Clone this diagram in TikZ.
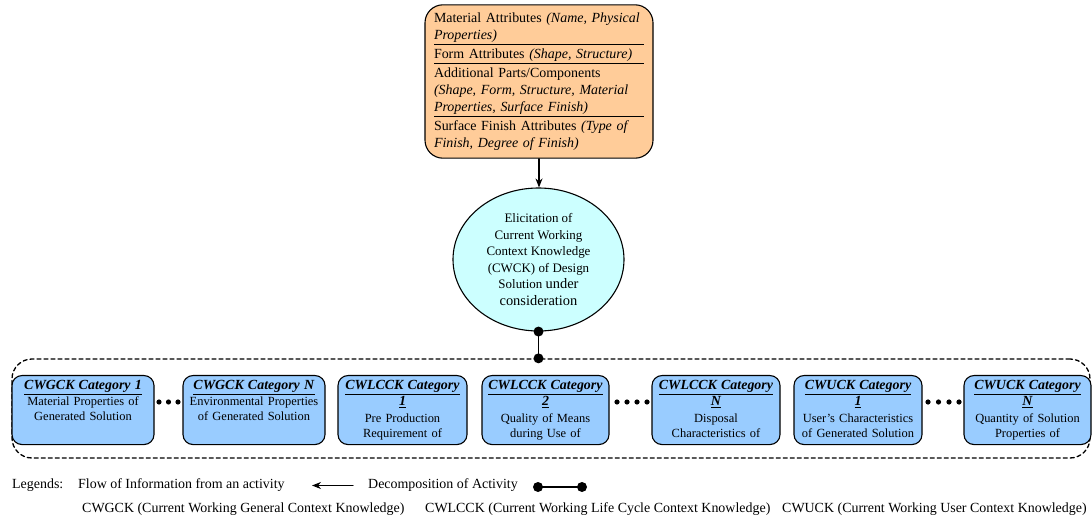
\documentclass[tikz,border=0pt]{standalone}
\usepackage{fontspec}
\setmainfont{Liberation Serif}
\usetikzlibrary{arrows.meta,shapes.geometric,calc}
\definecolor{attrorange}{HTML}{FFCC99}
\definecolor{elicyan}{HTML}{CCFFFF}
\definecolor{catblue}{HTML}{99CCFF}

\newcommand{\attrrule}{\par\kern2bp\hrule height 0.8bp\kern3.5bp}
\newcommand{\cattitle}[1]{{\fontsize{14}{15.5}\selectfont\underline{\textbf{\textit{#1}}}}}

\begin{document}
\begin{tikzpicture}[x=1bp, y=-1bp, >={Stealth[length=9bp,width=7bp]}, line cap=round, line join=round,
  attrbox/.style={draw, line width=1.1bp, fill=attrorange, rounded corners=18bp,
    text width=210bp, inner xsep=9bp, inner ysep=8bp, minimum height=153bp,
    align=left, font=\fontsize{14}{17}\selectfont},
  elicnode/.style={draw, ellipse, fill=elicyan, line width=1.1bp,
    minimum width=171bp, minimum height=143bp, inner sep=0pt, align=center,
    font=\fontsize{13}{16.5}\selectfont},
  catbox/.style={draw, line width=1.1bp, fill=catblue, rounded corners=10bp,
    anchor=north, align=center, inner xsep=3bp, inner ysep=4bp,
    text height=10bp, text depth=51bp, font=\fontsize{12.5}{15}\selectfont},
  groupbox/.style={draw, dash pattern=on 4bp off 3bp, line width=1.3bp,
    rounded corners=20bp, minimum width=1078bp, minimum height=99bp, inner sep=0pt},
  flow/.style={->, line width=1.1bp},
  decomp/.style={line width=1.1bp},
  legend/.style={anchor=base west, inner sep=0pt, font=\fontsize{14}{17}\selectfont}
]
\useasboundingbox (0,0) rectangle (1092,521);

%==================================================
% Attributes of the design solution
%==================================================
\node[attrbox] (attr) at (539,81.5) {%
  Material Attributes \textit{(Name, Physical}\\\textit{Properties)}\attrrule
  Form Attributes \textit{(Shape, Structure)}\attrrule
  Additional Parts/Components\\\textit{(Shape, Form, Structure, Material}\\\textit{Properties, Surface Finish)}\attrrule
  Surface Finish Attributes \textit{(Type of}\\\textit{Finish, Degree of Finish)}};

%==================================================
% Elicitation activity
%==================================================
\node[elicnode] (elic) at (538.5,259.5) {Elicitation of\\Current Working\\Context Knowledge\\(CWCK) of Design\\Solution {\fontsize{14.5}{16.5}\selectfont under}\\{\fontsize{14.5}{16.5}\selectfont consideration}};

\draw[flow] (attr.south) -- (attr.south |- elic.north);

%==================================================
% Decomposition into knowledge categories
%==================================================
\node[groupbox] (group) at (551,408.5) {};

\coordinate (split) at (elic.south |- group.north);
\draw[decomp] (elic.south) -- (split);
\fill (elic.south) circle (5bp);
\fill (split) circle (5bp);

\node[catbox, text width=136bp] (gen1) at (83,375) {\cattitle{CWGCK Category 1}\\[1.5bp]Material Properties of\\Generated Solution};
\node[catbox, text width=136bp] (genN) at (254,375) {\cattitle{CWGCK Category N}\\[1.5bp]Environmental Properties\\of Generated Solution};
\node[catbox, text width=123bp] (lc1) at (402.5,375) {\cattitle{CWLCCK Category}\\[1.5bp]\cattitle{1}\\[1.5bp]Pre Production\\Requirement of};
\node[catbox, text width=121bp] (lc2) at (545.5,375) {\cattitle{CWLCCK Category}\\[1.5bp]\cattitle{2}\\[1.5bp]Quality of Means\\during Use of};
\node[catbox, text width=122bp] (lcN) at (716,375) {\cattitle{CWLCCK Category}\\[1.5bp]\cattitle{N}\\[1.5bp]Disposal\\Characteristics of};
\node[catbox, text width=122bp] (user1) at (858,375) {\cattitle{CWUCK Category}\\[1.5bp]\cattitle{1}\\[1.5bp]User’s Characteristics\\of Generated Solution};
\node[catbox, text width=121bp] (userN) at (1027.5,375) {\cattitle{CWUCK Category}\\[1.5bp]\cattitle{N}\\[1.5bp]Quantity of Solution\\Properties of};

% continuation dots
\foreach \x in {159,168.5,178}{
  \fill (\x,402) circle (2.6bp);
}
\foreach \x in {617,627,637,647}{
  \fill (\x,402) circle (2.6bp);
}
\foreach \x in {928,938.5,949,959}{
  \fill (\x,402) circle (2.6bp);
}

%==================================================
% Legends
%==================================================
\node[legend] (lgd) at (12,488) {Legends:};
\node[legend] (lgflow) at (78,488) {Flow of Information from an activity};
\coordinate (flowtail) at (353,485.5);
\coordinate (flowhead) at (312,485.5);
\draw[flow] (flowtail) -- (flowhead);

\node[legend] (lgdec) at (368,488) {Decomposition of Activity};
\coordinate (decA) at (538,487);
\coordinate (decB) at (582,487);
\draw[decomp] (decA) -- (decB);
\fill (decA) circle (5bp);
\fill (decB) circle (5bp);

\node[legend] (kgen) at (82,512) {CWGCK (Current Working General Context Knowledge)};
\node[legend] (klc) at (425,512) {CWLCCK (Current Working Life Cycle Context Knowledge)};
\node[legend] (kuser) at (782,512) {CWUCK (Current Working User Context Knowledge)};

\end{tikzpicture}
\end{document}
